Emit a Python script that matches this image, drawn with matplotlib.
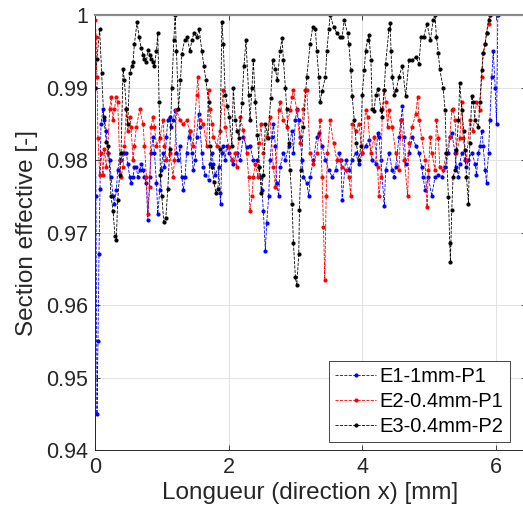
import matplotlib
matplotlib.use("Agg")
import matplotlib.pyplot as plt

# ---------- Data ----------

x_e1 = [0.00, 0.015, 0.03, 0.045, 0.06, 0.075, 0.09, 0.12, 0.14, 0.17, 0.19, 0.22, 0.24, 0.27, 0.29,
        0.32, 0.34, 0.37, 0.39, 0.42, 0.44, 0.47, 0.49, 0.52, 0.54, 0.57, 0.59, 0.62, 0.64, 0.67,
        0.69, 0.72, 0.74, 0.77, 0.79, 0.82, 0.84, 0.87, 0.89, 0.92, 0.94, 0.97, 0.99, 1.02, 1.04,
        1.07, 1.09, 1.12, 1.14, 1.17, 1.20, 1.22, 1.25, 1.27, 1.30, 1.32, 1.35, 1.37, 1.40, 1.42,
        1.45, 1.47, 1.50, 1.52, 1.55, 1.57, 1.60, 1.62, 1.65, 1.70, 1.72, 1.75, 1.77, 1.80, 1.85,
        1.87, 1.88, 1.90, 1.92, 1.95, 1.97, 2.00, 2.05, 2.07, 2.12, 2.17, 2.22, 2.27, 2.32, 2.37,
        2.42, 2.45, 2.48, 2.50, 2.52, 2.55, 2.57, 2.60, 2.62, 2.65, 2.67, 2.70, 2.72, 2.75, 2.77,
        2.82, 2.85, 2.90, 2.95, 2.97, 3.00, 3.02, 3.05, 3.07, 3.10, 3.12, 3.17, 3.20, 3.22, 3.27,
        3.32, 3.35, 3.40, 3.45, 3.50, 3.55, 3.60, 3.65, 3.68, 3.70, 3.75, 3.80, 3.85, 3.90, 3.95,
        4.00, 4.05, 4.10, 4.15, 4.20, 4.23, 4.25, 4.28, 4.33, 4.35, 4.40, 4.45, 4.48, 4.50, 4.55,
        4.58, 4.60, 4.63, 4.65, 4.70, 4.75, 4.80, 4.85, 4.89, 4.91, 4.94, 4.99, 5.04, 5.09, 5.14,
        5.19, 5.24, 5.29, 5.31, 5.34, 5.39, 5.41, 5.44, 5.46, 5.49, 5.54, 5.56, 5.59, 5.64, 5.69,
        5.71, 5.74, 5.76, 5.79, 5.81, 5.84, 5.86, 5.89, 5.91, 5.94, 5.96, 5.99, 6.01, 6.03]
y_e1 = [0.9900, 0.9750, 0.9450, 0.9550, 0.9670, 0.9760, 0.9850, 0.9870, 0.9855, 0.9840, 0.9810, 0.9800, 0.9777, 0.9750, 0.9740,
        0.9758, 0.9786, 0.9800, 0.9800, 0.9810, 0.9810, 0.9810, 0.9795, 0.9777, 0.9768, 0.9777, 0.9790, 0.9790, 0.9777, 0.9786,
        0.9795, 0.9786, 0.9777, 0.9768, 0.9717, 0.9777, 0.9810, 0.9832, 0.9810, 0.9768, 0.9726, 0.9758, 0.9786, 0.9810, 0.9790,
        0.9832, 0.9855, 0.9860, 0.9846, 0.9855, 0.9869, 0.9810, 0.9800, 0.9820, 0.9777, 0.9758, 0.9777, 0.9810, 0.9832, 0.9840,
        0.9810, 0.9786, 0.9800, 0.9832, 0.9864, 0.9846, 0.9810, 0.9790, 0.9780, 0.9772, 0.9795, 0.9810, 0.9795, 0.9780, 0.9790,
        0.9754, 0.9740, 0.9810, 0.9820, 0.9800, 0.9820, 0.9810, 0.9800, 0.9795, 0.9810, 0.9800, 0.9832, 0.9818, 0.9820, 0.9800,
        0.9800, 0.9790, 0.9777, 0.9758, 0.9730, 0.9675, 0.9713, 0.9750, 0.9800, 0.9832, 0.9850, 0.9820, 0.9768, 0.9750, 0.9790,
        0.9810, 0.9800, 0.9820, 0.9840, 0.9810, 0.9855, 0.9870, 0.9855, 0.9832, 0.9800, 0.9777, 0.9768, 0.9750, 0.9777, 0.9800,
        0.9832, 0.9837, 0.9820, 0.9800, 0.9786, 0.9777, 0.9786, 0.9810, 0.9800, 0.9745, 0.9800, 0.9786, 0.9800, 0.9810, 0.9795,
        0.9810, 0.9820, 0.9827, 0.9800, 0.9795, 0.9837, 0.9832, 0.9800, 0.9736, 0.9786, 0.9810, 0.9786, 0.9777, 0.9790, 0.9832,
        0.9855, 0.9874, 0.9832, 0.9795, 0.9810, 0.9832, 0.9820, 0.9810, 0.9790, 0.9777, 0.9758, 0.9777, 0.9750, 0.9777, 0.9780,
        0.9777, 0.9790, 0.9810, 0.9832, 0.9837, 0.9810, 0.9790, 0.9777, 0.9795, 0.9810, 0.9800, 0.9790, 0.9800, 0.9810, 0.9795,
        0.9780, 0.9810, 0.9820, 0.9840, 0.9820, 0.9786, 0.9768, 0.9810, 0.9855, 0.9915, 0.9950, 0.9900, 0.9850, 1.0000]

x_e2 = [0.00, 0.02, 0.03, 0.045, 0.07, 0.095, 0.12, 0.14, 0.17, 0.19, 0.22, 0.24, 0.27, 0.29, 0.32,
        0.34, 0.37, 0.39, 0.42, 0.44, 0.47, 0.49, 0.52, 0.54, 0.57, 0.59, 0.62, 0.67, 0.72, 0.74,
        0.77, 0.79, 0.82, 0.84, 0.87, 0.89, 0.92, 0.97, 1.02, 1.04, 1.07, 1.12, 1.17, 1.19, 1.22,
        1.27, 1.32, 1.37, 1.42, 1.47, 1.52, 1.54, 1.57, 1.62, 1.67, 1.70, 1.72, 1.75, 1.77, 1.82,
        1.87, 1.92, 1.95, 2.00, 2.05, 2.10, 2.12, 2.17, 2.22, 2.27, 2.30, 2.32, 2.35, 2.37, 2.40,
        2.44, 2.46, 2.48, 2.52, 2.57, 2.62, 2.67, 2.70, 2.75, 2.77, 2.82, 2.87, 2.92, 2.95, 2.97,
        3.02, 3.07, 3.12, 3.15, 3.17, 3.22, 3.27, 3.32, 3.37, 3.40, 3.42, 3.44, 3.46, 3.48, 3.52,
        3.57, 3.62, 3.67, 3.70, 3.75, 3.80, 3.83, 3.85, 3.90, 3.95, 4.00, 4.05, 4.08, 4.13, 4.18,
        4.23, 4.25, 4.28, 4.30, 4.33, 4.35, 4.38, 4.40, 4.45, 4.50, 4.55, 4.58, 4.63, 4.68, 4.70,
        4.75, 4.80, 4.83, 4.85, 4.89, 4.94, 4.97, 4.99, 5.02, 5.04, 5.09, 5.11, 5.14, 5.16, 5.21,
        5.26, 5.31, 5.34, 5.36, 5.39, 5.41, 5.46, 5.49, 5.51, 5.56, 5.61, 5.66, 5.71, 5.76, 5.79,
        5.81, 5.84, 5.86, 5.89, 5.91]
y_e2 = [0.9993, 0.9970, 0.9915, 0.9830, 0.9780, 0.9810, 0.9780, 0.9815, 0.9790, 0.9810, 0.9870, 0.9887, 0.9855, 0.9870, 0.9887,
        0.9880, 0.9800, 0.9777, 0.9790, 0.9820, 0.9870, 0.9840, 0.9860, 0.9846, 0.9800, 0.9820, 0.9846, 0.9870, 0.9850, 0.9820,
        0.9777, 0.9726, 0.9763, 0.9846, 0.9860, 0.9846, 0.9820, 0.9830, 0.9855, 0.9820, 0.9800, 0.9810, 0.9777, 0.9800, 0.9869,
        0.9855, 0.9850, 0.9855, 0.9840, 0.9820, 0.9890, 0.9915, 0.9855, 0.9850, 0.9820, 0.9897, 0.9870, 0.9850, 0.9832, 0.9820,
        0.9840, 0.9897, 0.9846, 0.9818, 0.9800, 0.9810, 0.9790, 0.9860, 0.9841, 0.9810, 0.9777, 0.9730, 0.9750, 0.9777, 0.9795,
        0.9777, 0.9823, 0.9850, 0.9810, 0.9832, 0.9860, 0.9790, 0.9763, 0.9869, 0.9880, 0.9855, 0.9846, 0.9869, 0.9887, 0.9897,
        0.9869, 0.9823, 0.9870, 0.9897, 0.9897, 0.9810, 0.9795, 0.9810, 0.9855, 0.9777, 0.9708, 0.9635, 0.9750, 0.9810, 0.9855,
        0.9823, 0.9800, 0.9800, 0.9790, 0.9786, 0.9777, 0.9750, 0.9850, 0.9840, 0.9850, 0.9810, 0.9869, 0.9860, 0.9810, 0.9832,
        0.9790, 0.9750, 0.9777, 0.9870, 0.9897, 0.9880, 0.9846, 0.9869, 0.9846, 0.9810, 0.9786, 0.9855, 0.9800, 0.9750, 0.9823,
        0.9846, 0.9864, 0.9887, 0.9855, 0.9830, 0.9800, 0.9735, 0.9786, 0.9832, 0.9810, 0.9786, 0.9855, 0.9830, 0.9790, 0.9786,
        0.9810, 0.9832, 0.9869, 0.9870, 0.9855, 0.9810, 0.9830, 0.9880, 0.9830, 0.9800, 0.9855, 0.9840, 0.9880, 0.9869, 0.9915,
        0.9947, 0.9960, 0.9975, 0.9988, 1.0000]

x_e3 = [0.00, 0.03, 0.07, 0.10, 0.13, 0.17, 0.20, 0.24, 0.27, 0.30, 0.32, 0.34, 0.37, 0.39, 0.42,
        0.44, 0.47, 0.49, 0.52, 0.55, 0.57, 0.59, 0.63, 0.66, 0.69, 0.72, 0.74, 0.77, 0.79, 0.82,
        0.84, 0.87, 0.89, 0.92, 0.94, 0.96, 0.98, 1.00, 1.03, 1.06, 1.09, 1.12, 1.15, 1.18, 1.20,
        1.22, 1.25, 1.28, 1.30, 1.34, 1.38, 1.42, 1.45, 1.48, 1.52, 1.56, 1.60, 1.63, 1.66, 1.70,
        1.72, 1.75, 1.78, 1.81, 1.84, 1.87, 1.90, 1.92, 1.95, 1.98, 2.01, 2.05, 2.07, 2.10, 2.13,
        2.16, 2.20, 2.23, 2.26, 2.30, 2.32, 2.35, 2.37, 2.40, 2.43, 2.46, 2.49, 2.52, 2.55, 2.59,
        2.63, 2.66, 2.70, 2.73, 2.77, 2.80, 2.82, 2.85, 2.87, 2.90, 2.92, 2.95, 2.97, 3.00, 3.02,
        3.05, 3.06, 3.08, 3.12, 3.17, 3.22, 3.26, 3.30, 3.32, 3.35, 3.37, 3.40, 3.45, 3.47, 3.50,
        3.52, 3.57, 3.62, 3.67, 3.70, 3.73, 3.78, 3.80, 3.83, 3.85, 3.88, 3.91, 3.95, 3.98, 4.00,
        4.03, 4.05, 4.08, 4.10, 4.13, 4.15, 4.18, 4.20, 4.24, 4.28, 4.30, 4.33, 4.35, 4.40, 4.42,
        4.43, 4.45, 4.48, 4.51, 4.55, 4.60, 4.65, 4.70, 4.75, 4.80, 4.85, 4.88, 4.92, 4.97, 5.02,
        5.06, 5.09, 5.11, 5.14, 5.16, 5.21, 5.24, 5.26, 5.29, 5.31, 5.32, 5.34, 5.36, 5.39, 5.41,
        5.44, 5.46, 5.49, 5.52, 5.54, 5.56, 5.59, 5.61, 5.64, 5.66, 5.69, 5.74, 5.76, 5.79, 5.81,
        5.84, 5.86, 5.89, 5.91]
y_e3 = [0.9900, 0.9940, 0.9980, 0.9920, 0.9860, 0.9825, 0.9820, 0.9750, 0.9730, 0.9695, 0.9690, 0.9745, 0.9780, 0.9810, 0.9925,
        0.9910, 0.9870, 0.9850, 0.9920, 0.9930, 0.9935, 0.9960, 0.9990, 0.9970, 0.9955, 0.9945, 0.9940, 0.9935, 0.9952, 0.9945,
        0.9940, 0.9935, 0.9930, 0.9950, 0.9975, 0.9880, 0.9780, 0.9750, 0.9715, 0.9720, 0.9760, 0.9815, 0.9900, 0.9965, 1.0000,
        0.9950, 0.9870, 0.9910, 0.9946, 0.9965, 0.9970, 0.9950, 0.9965, 0.9975, 0.9970, 0.9980, 0.9950, 0.9930, 0.9910, 0.9880,
        0.9820, 0.9790, 0.9770, 0.9755, 0.9760, 0.9815, 0.9990, 0.9960, 0.9890, 0.9875, 0.9860, 0.9820, 0.9900, 0.9855, 0.9840,
        0.9830, 0.9878, 0.9930, 0.9965, 0.9890, 0.9855, 0.9900, 0.9938, 0.9880, 0.9835, 0.9790, 0.9755, 0.9780, 0.9850, 0.9830,
        0.9885, 0.9938, 0.9925, 0.9910, 0.9950, 0.9968, 0.9938, 0.9900, 0.9870, 0.9823, 0.9786, 0.9740, 0.9685, 0.9638, 0.9627,
        0.9670, 0.9731, 0.9786, 0.9846, 0.9915, 0.9960, 0.9984, 0.9980, 0.9950, 0.9915, 0.9880, 0.9895, 0.9915, 0.9950, 0.9980,
        1.0000, 0.9984, 0.9975, 0.9970, 0.9970, 0.9993, 0.9975, 0.9960, 0.9924, 0.9888, 0.9855, 0.9823, 0.9800, 0.9820, 0.9890,
        0.9924, 0.9950, 0.9965, 0.9972, 0.9938, 0.9870, 0.9868, 0.9890, 0.9898, 0.9869, 0.9860, 0.9897, 0.9933, 0.9980, 0.9989,
        0.9950, 0.9915, 0.9890, 0.9897, 0.9915, 0.9930, 0.9888, 0.9938, 0.9938, 0.9942, 0.9933, 0.9970, 0.9970, 0.9988, 0.9965,
        0.9993, 1.0000, 0.9970, 0.9947, 0.9925, 0.9900, 0.9869, 0.9810, 0.9749, 0.9685, 0.9660, 0.9731, 0.9777, 0.9786, 0.9814,
        0.9855, 0.9906, 0.9869, 0.9840, 0.9814, 0.9777, 0.9740, 0.9823, 0.9888, 0.9880, 0.9855, 0.9846, 0.9880, 0.9924, 0.9947,
        0.9960, 0.9975, 0.9993, 1.0000]

labels = ["E1-1mm-P1", "E2-0.4mm-P1", "E3-0.4mm-P2"]
colors = ["#0000ff", "#ff0000", "#000000"]

x_ticks = [0, 2, 4, 6]
y_ticks = [0.94, 0.95, 0.96, 0.97, 0.98, 0.99, 1.0]
y_ticklabels = ["0.94", "0.95", "0.96", "0.97", "0.98", "0.99", "1"]

# ---------- Plot ----------

plt.rcParams["font.family"] = ["Liberation Sans", "DejaVu Sans"]

fig = plt.figure(figsize=(5.23, 5.19), dpi=100)
# axes run slightly past the right edge of the canvas (cropped like the original)
ax = fig.add_axes([0.1816, 0.1329, 0.8240, 0.8382])

for xs, ys, lab, col in zip([x_e1, x_e2, x_e3], [y_e1, y_e2, y_e3], labels, colors):
    ax.plot(xs, ys, linestyle="--", marker=".", markersize=4.0, linewidth=0.6,
            color=col, label=lab)

ax.set_xlim(0, 6.45)
ax.set_ylim(0.94, 1.0)
ax.set_xticks(x_ticks)
ax.set_yticks(y_ticks)
ax.set_yticklabels(y_ticklabels)
ax.grid(True, color="#dedede", linewidth=0.6)
ax.set_axisbelow(True)

ax.tick_params(direction="in", length=3.5, width=0.6, colors="#262626",
               labelsize=15.5, top=True, right=True, pad=5)
for side in ["left", "bottom", "top", "right"]:
    ax.spines[side].set_color("#262626")
    ax.spines[side].set_linewidth(0.7)
ax.spines["top"].set_color("#8a8a8a")
ax.spines["top"].set_linewidth(1.6)

ax.set_xlabel("Longueur (direction x) [mm]", fontsize=17.5, color="#262626", labelpad=3)
ax.set_ylabel("Section effective [-]", fontsize=17.5, color="#262626", labelpad=6)

leg = ax.legend(loc="lower right", fontsize=14.5, frameon=True, fancybox=False,
                handlelength=2.0, borderaxespad=0.4, labelspacing=0.3,
                handletextpad=0.2, borderpad=0.3, bbox_to_anchor=(0.981, 0.0))
leg.get_frame().set_edgecolor("#262626")
leg.get_frame().set_linewidth(0.6)
leg.get_frame().set_alpha(1)

plt.savefig("out.png", dpi=100)
